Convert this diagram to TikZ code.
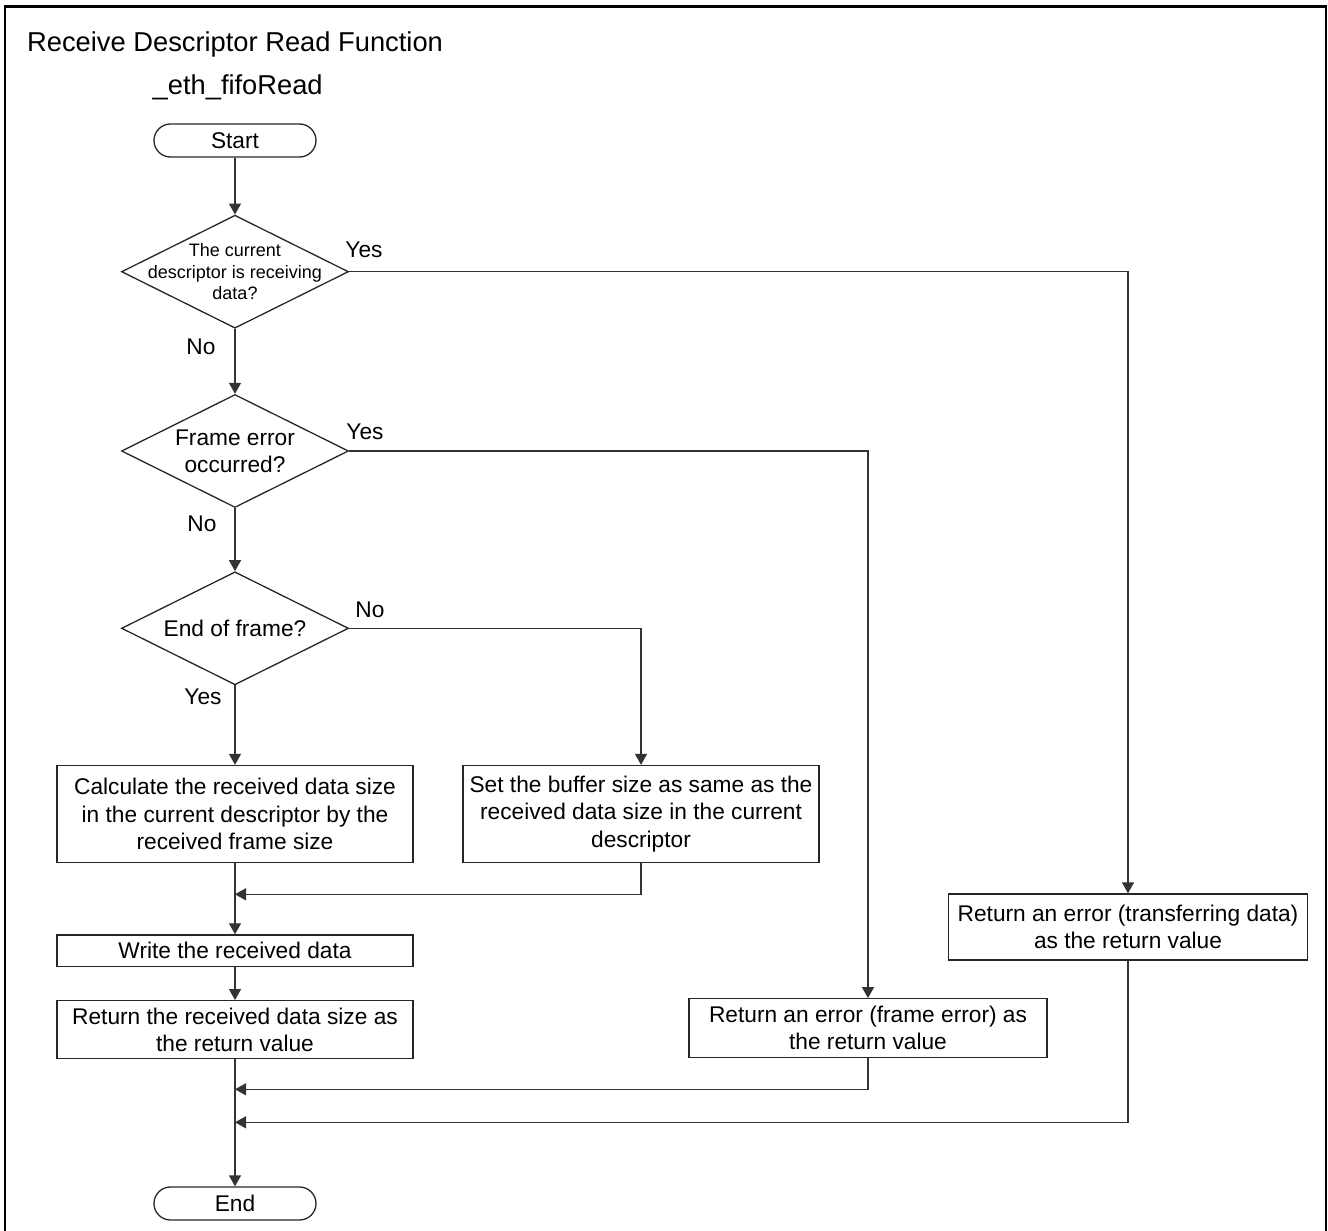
\documentclass[tikz,border=0pt]{standalone}
\usepackage{fontspec}
\setmainfont{Liberation Sans}
\usetikzlibrary{shapes.geometric,arrows.meta}

\tikzset{
  txt/.style={font=\fontsize{22.7}{27.3}\selectfont},
  shapeline/.style={draw=black!85, line width=1.3pt},
  terminal/.style={shapeline, txt, rectangle, rounded corners=16.5pt,
    minimum width=162pt, minimum height=33pt, inner sep=0pt},
  procbox/.style={shapeline, txt, rectangle, align=center,
    minimum width=356pt, inner sep=0pt},
  decision/.style={shapeline, diamond, minimum width=227pt,
    minimum height=113pt, inner sep=0pt},
  dtext/.style={txt, align=center, inner sep=0pt},
  conn/.style={draw=black!80, line width=1.3pt},
  arr/.style={conn, -{Triangle[length=11pt,width=12pt]}},
  branch/.style={txt, inner sep=0pt}
}

\begin{document}
\begin{tikzpicture}[x=1pt, y=-1pt]
  \useasboundingbox (0,0) rectangle (1328,1231);
  \clip (0,0) rectangle (1328,1231);

  % outer frame, open at the bottom
  \draw[line width=2.5pt] (5,1260) -- (5,6.5) -- (1326,6.5) -- (1326,1260);

  % headings
  \node[anchor=base west, inner sep=0pt, font=\fontsize{27.3}{32}\selectfont]
    (title) at (27,51.7) {Receive Descriptor Read Function};
  \node[anchor=base west, inner sep=0pt, font=\fontsize{27.3}{32}\selectfont]
    (fname) at (152.5,94) {\_eth\_fifoRead};

  % main column
  \node[terminal] (start) at (235,140.5) {Start};
  \node[decision, label={[dtext, font=\fontsize{18}{21.5}\selectfont]center:{The current\\descriptor is receiving\\data?}}]
    (d1) at (235,271.7) {};
  \node[decision, label={[dtext]center:{Frame error\\occurred?}}]
    (d2) at (235,451) {};
  \node[decision, label={[dtext]center:{End of frame?}}]
    (d3) at (235,628.3) {};

  \node[procbox, minimum height=97pt] (calc) at (235,814)
    {Calculate the received data size\\in the current descriptor by the\\received frame size};
  \node[procbox, minimum height=97pt] (setbuf) at (641,814)
    {Set the buffer size as same as the\\received data size in the current\\descriptor};
  \node[procbox, minimum height=31.7pt] (write) at (235,950.8)
    {Write the received data};
  \node[procbox, minimum height=58pt] (retsize) at (235,1029.7)
    {Return the received data size as\\the return value};
  \node[procbox, minimum width=358pt, minimum height=58.5pt] (reterrf) at (868,1028)
    {Return an error (frame error) as\\the return value};
  \node[procbox, minimum width=358.5pt, minimum height=66pt] (reterrt) at (1128,927)
    {Return an error (transferring data)\\as the return value};
  \node[terminal] (end) at (235,1203.5) {End};

  % junction points on the main column
  \coordinate (j1) at (235,894.3);
  \coordinate (j2) at (235,1089.3);
  \coordinate (j3) at (235,1122.3);

  % main flow
  \draw[arr] (start) -- (d1);
  \draw[arr] (d1) -- (d2);
  \draw[arr] (d2) -- (d3);
  \draw[arr] (d3) -- (calc);
  \draw[arr] (calc) -- (write);
  \draw[arr] (write) -- (retsize);
  \draw[arr] (retsize) -- (end);

  % side branches
  \draw[arr] (d1.east) -| (reterrt.north);
  \draw[arr] (d2.east) -| (reterrf.north);
  \draw[arr] (d3.east) -| (setbuf.north);

  % returns to the main column
  \draw[arr] (setbuf.south) |- (j1);
  \draw[arr] (reterrf.south) |- (j2);
  \draw[arr] (reterrt.south) |- (j3);

  % branch labels
  \node[branch] (y1) at (364,250) {Yes};
  \node[branch] (n1) at (201,347) {No};
  \node[branch] (y2) at (365,432) {Yes};
  \node[branch] (n2) at (202,524) {No};
  \node[branch] (n3) at (370,610) {No};
  \node[branch] (y3) at (203,697) {Yes};
\end{tikzpicture}
\end{document}
